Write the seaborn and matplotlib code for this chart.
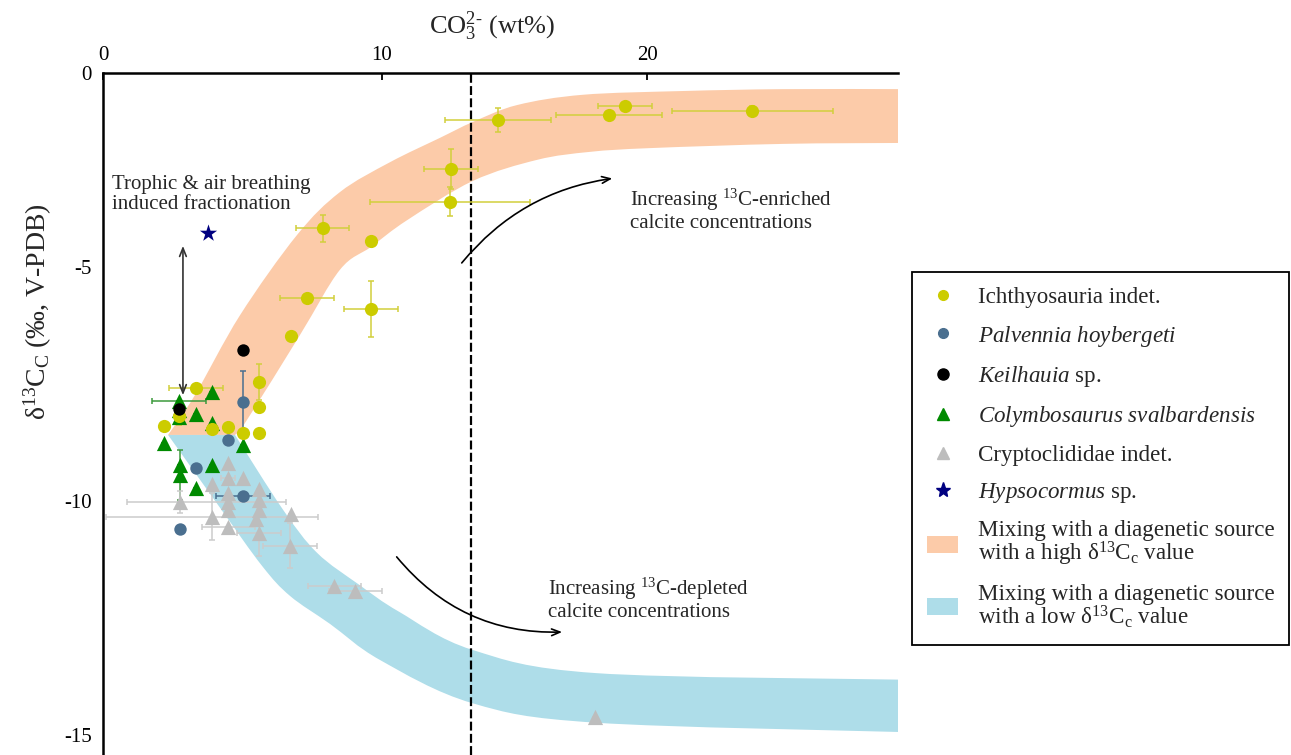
import numpy as np
import pandas as pd
import matplotlib
matplotlib.use("Agg")
import matplotlib.pyplot as plt
from matplotlib.lines import Line2D
from matplotlib.patches import Patch, PathPatch
from matplotlib.path import Path
import seaborn as sns

# Ichthyosauria indet.
ich_x = [23.95, 19.16, 18.56, 14.38, 12.61, 12.58, 7.79, 9.60, 7.19, 9.60,
         6.59, 3.01, 5.38, 5.38, 2.37, 1.81, 3.61, 4.22, 4.78, 5.38]
ich_y = [-1.67, -1.56, -1.75, -1.86, -2.91, -3.61, -4.17, -4.44, -5.66, -5.90,
         -6.47, -7.59, -7.46, -7.99, -8.18, -8.40, -8.46, -8.42, -8.55, -8.55]
ich_xerr = [3.03, 1.0, 2.0, 2.0, 1.0, 3.0, 1.0, 0, 1.0, 1.0,
            0, 1.0, 0, 0, 0, 0, 0, 0, 0, 0]
ich_yerr = [0.1, 0, 0, 0.26, 0.43, 0.31, 0.29, 0, 0, 0.6,
            0, 0, 0.38, 0, 0.2, 0, 0, 0, 0, 0]

# Palvennia hoybergeti
pal_x = [4.78, 4.22, 3.01, 4.78, 2.41]
pal_y = [-7.88, -8.70, -9.29, -9.89, -10.60]
pal_xerr = [0, 0, 0, 1.0, 0]
pal_yerr = [0.66, 0, 0, 0, 0]

# Keilhauia sp.
kei_x = [4.78, 2.37]
kei_y = [-6.77, -8.03]

# Colymbosaurus svalbardensis
col_x = [3.61, 2.37, 2.37, 2.37, 3.01, 3.61, 1.81, 4.78, 2.41, 2.41, 3.61, 3.01]
col_y = [-7.67, -7.86, -8.06, -8.21, -8.14, -8.33, -8.76, -8.80, -9.23, -9.44, -9.23, -9.72]
col_xerr = [0, 1.0, 0, 0, 0, 0, 0, 0, 0, 0, 0, 0]
col_yerr = [0, 0, 0, 0, 0, 0, 0, 0, 0, 0.53, 0, 0]

# Cryptoclididae indet.
cry_x = [4.22, 4.22, 4.78, 3.61, 4.22, 5.38, 2.41, 4.22, 4.22, 5.38,
         5.38, 3.61, 5.27, 6.59, 4.22, 5.38, 6.55, 8.21, 9.00, 18.03]
cry_y = [-9.19, -9.51, -9.51, -9.64, -9.83, -9.74, -10.02, -10.02, -10.19, -9.98,
         -10.19, -10.34, -10.38, -10.28, -10.56, -10.68, -10.96, -11.82, -11.92, -14.62]
cry_xerr_lo = [0, 0.27, 0, 0, 0, 0, 2.0, 0, 0, 0,
               0, 4.0, 0, 0, 1.0, 0.83, 1.0, 1.0, 1.0, 0]
cry_xerr_hi = [0, 0.27, 0, 0, 0, 0, 4.0, 0, 0, 0,
               0, 4.0, 0, 0, 1.0, 0.83, 1.0, 1.0, 1.0, 0]
cry_yerr = [0, 0, 0, 0, 0, 0, 0.23, 0, 0, 0,
            0, 0.5, 0, 0, 0, 0.5, 0.48, 0, 0, 0]

# Hypsocormus sp.
hyp_x = [3.46]
hyp_y = [-4.27]

# mixing envelopes (edges)
high_up_x = [1.96, 2.97, 4.67, 6.81, 8.43, 10.32, 12.2, 13.44, 15.1, 17.58, 21.35, 25.11, 29.6]
high_up_y = [-8.59, -7.74, -6.03, -4.32, -3.40, -2.76, -2.24, -1.90, -1.54, -1.32, -1.24, -1.20, -1.20]
high_lo_x = [4.48, 4.93, 6.93, 8.43, 9.60, 10.96, 13.44, 15.86, 17.85, 20.11, 25.11, 29.6]
high_lo_y = [-8.59, -8.27, -6.45, -5.06, -4.57, -4.00, -3.16, -2.71, -2.54, -2.46, -2.37, -2.35]
low_up_x = [4.48, 6.29, 7.57, 9.15, 10.66, 13.4, 18.07, 29.6]
low_up_y = [-8.59, -10.19, -11.11, -11.79, -12.37, -13.18, -13.68, -13.82]
low_lo_x = [1.96, 3.92, 5.50, 6.55, 8.06, 9.94, 13.40, 18.07, 29.6]
low_lo_y = [-8.59, -10.15, -11.39, -12.03, -12.63, -13.40, -14.32, -14.74, -14.94]

co3_threshold = 13.37

c_ich = "#cccc00"
c_pal = "#4a6f8f"
c_kei = "#000000"
c_col = "#008a00"
c_cry = "#bdbdbd"
c_hyp = "#000080"
c_high = "#fccba9"
c_low = "#aedde9"


def smooth_edge(xs, ys):
    # Catmull-Rom through the traced edge, as cubic bezier pieces
    p = np.column_stack([xs, ys])
    p = np.vstack([p[0], p, p[-1]])
    verts, codes = [tuple(p[1])], [Path.MOVETO]
    for i in range(1, len(p) - 2):
        c1 = p[i] + (p[i + 1] - p[i - 1]) / 6
        c2 = p[i + 1] - (p[i + 2] - p[i]) / 6
        verts += [tuple(c1), tuple(c2), tuple(p[i + 1])]
        codes += [Path.CURVE4] * 3
    return verts, codes


def band_patch(ux, uy, lx, ly, color):
    v1, c1 = smooth_edge(ux, uy)
    v2, c2 = smooth_edge(lx[::-1], ly[::-1])
    c2[0] = Path.LINETO
    verts = v1 + v2 + [v1[0]]
    codes = c1 + c2 + [Path.CLOSEPOLY]
    return PathPatch(Path(verts, codes), facecolor=color, edgecolor="none", zorder=0)


sns.set_theme(style="white")
plt.rcParams["font.family"] = ["Liberation Serif", "DejaVu Serif"]
plt.rcParams["mathtext.fontset"] = "custom"
plt.rcParams["mathtext.rm"] = "Liberation Serif"
plt.rcParams["mathtext.it"] = "Liberation Serif:italic"

fig = plt.figure(figsize=(12.91, 7.55), dpi=100)
ax = fig.add_axes([103 / 1291, 0.0, 795 / 1291, 682 / 755])

# envelopes
ax.add_patch(band_patch(high_up_x, high_up_y, high_lo_x, high_lo_y, c_high))
ax.add_patch(band_patch(low_up_x, low_up_y, low_lo_x, low_lo_y, c_low))

ax.axvline(co3_threshold, color="black", ls=(0, (4, 1.5)), lw=1.6, zorder=1)

# error bars
eb = dict(fmt="none", capsize=2.5, elinewidth=1.1, capthick=1.1, zorder=2)
ax.errorbar(ich_x, ich_y, xerr=ich_xerr, yerr=ich_yerr, ecolor="#d2cf3c", **eb)
ax.errorbar(pal_x, pal_y, xerr=pal_xerr, yerr=pal_yerr, ecolor=c_pal, **eb)
ax.errorbar(col_x, col_y, xerr=col_xerr, yerr=col_yerr, ecolor="#3c9a3c", **eb)
ax.errorbar(cry_x, cry_y, xerr=[cry_xerr_lo, cry_xerr_hi], yerr=cry_yerr,
            ecolor="#cccccc", **eb)

# markers
df = pd.concat([
    pd.DataFrame({"x": cry_x, "y": cry_y, "group": "Cryptoclididae indet."}),
    pd.DataFrame({"x": col_x, "y": col_y, "group": "Colymbosaurus svalbardensis"}),
    pd.DataFrame({"x": ich_x, "y": ich_y, "group": "Ichthyosauria indet."}),
    pd.DataFrame({"x": pal_x, "y": pal_y, "group": "Palvennia hoybergeti"}),
    pd.DataFrame({"x": kei_x, "y": kei_y, "group": "Keilhauia sp."}),
    pd.DataFrame({"x": hyp_x, "y": hyp_y, "group": "Hypsocormus sp."}),
], ignore_index=True)
palette = {"Ichthyosauria indet.": c_ich, "Palvennia hoybergeti": c_pal,
           "Keilhauia sp.": c_kei, "Colymbosaurus svalbardensis": c_col,
           "Cryptoclididae indet.": c_cry, "Hypsocormus sp.": c_hyp}
markers = {"Ichthyosauria indet.": "o", "Palvennia hoybergeti": "o",
           "Keilhauia sp.": "o", "Colymbosaurus svalbardensis": "^",
           "Cryptoclididae indet.": "^", "Hypsocormus sp.": "*"}
sizes = {"Ichthyosauria indet.": 90, "Palvennia hoybergeti": 80,
         "Keilhauia sp.": 80, "Colymbosaurus svalbardensis": 120,
         "Cryptoclididae indet.": 120, "Hypsocormus sp.": 170}
for name, sub in df.groupby("group", sort=False):
    sns.scatterplot(data=sub, x="x", y="y", color=palette[name], marker=markers[name],
                    s=sizes[name], linewidth=0, ax=ax, zorder=3, legend=False)

# axes styling
ax.set_xlim(-0.49, 29.44)
ax.set_ylim(-15.43, -0.855)
ax.xaxis.tick_top()
ax.xaxis.set_label_position("top")
ax.set_xticks([-0.49, 10, 20])
ax.set_xticklabels(["0", "10", "20"])
ax.set_yticks([-0.855, -5, -10, -15])
ax.set_yticklabels(["0", "-5", "-10", "-15"])
ax.tick_params(axis="both", direction="in", length=5, width=1.3, labelsize=15,
               colors="black")
ax.tick_params(axis="x", pad=6)
ax.tick_params(axis="y", pad=8)
for side in ["right", "bottom"]:
    ax.spines[side].set_visible(False)
for side in ["top", "left"]:
    ax.spines[side].set_linewidth(1.8)
    ax.spines[side].set_color("black")

ax.set_xlabel(r"CO$_3^{2\text{-}}$ (wt%)", fontsize=19)
ax.xaxis.set_label_coords(0.49, 1.058)
ax.set_ylabel(r"δ$^{13}$C$_\mathrm{C}$ (‰, V-PDB)", fontsize=20)
ax.yaxis.set_label_coords(-0.062, 0.65)

# annotations
ax.text(-0.15, -3.03, "Trophic & air breathing\ninduced fractionation",
        fontsize=15, va="top", ha="left", linespacing=1.1)
ax.annotate("", xy=(2.52, -7.80), xytext=(2.52, -4.49),
            arrowprops=dict(arrowstyle="<->,head_length=0.5,head_width=0.2",
                            color="#333333", lw=1.2))
ax.annotate("", xy=(18.79, -3.10), xytext=(12.95, -4.96),
            arrowprops=dict(arrowstyle="->,head_length=0.5,head_width=0.2",
                            color="black", lw=1.2, connectionstyle="arc3,rad=-0.2"))
ax.text(19.35, -3.28, "Increasing $^{13}$C-enriched\ncalcite concentrations",
        fontsize=15, va="top", ha="left", linespacing=1.1)
ax.annotate("", xy=(16.9, -12.8), xytext=(10.5, -11.15),
            arrowprops=dict(arrowstyle="->,head_length=0.5,head_width=0.2",
                            color="black", lw=1.2, connectionstyle="arc3,rad=0.25"))
ax.text(16.27, -11.6, "Increasing $^{13}$C-depleted\ncalcite concentrations",
        fontsize=15, va="top", ha="left", linespacing=1.1)

# legend
handles = [
    Line2D([], [], ls="none", marker="o", color=c_ich, markersize=7),
    Line2D([], [], ls="none", marker="o", color=c_pal, markersize=7),
    Line2D([], [], ls="none", marker="o", color=c_kei, markersize=8),
    Line2D([], [], ls="none", marker="^", color=c_col, markersize=9),
    Line2D([], [], ls="none", marker="^", color=c_cry, markersize=9),
    Line2D([], [], ls="none", marker="*", color=c_hyp, markersize=11),
    Patch(facecolor=c_high, edgecolor="none"),
    Patch(facecolor=c_low, edgecolor="none"),
]
labels = [
    "Ichthyosauria indet.",
    r"$\mathit{Palvennia\ hoybergeti}$",
    r"$\mathit{Keilhauia}$ sp.",
    r"$\mathit{Colymbosaurus\ svalbardensis}$",
    "Cryptoclididae indet.",
    r"$\mathit{Hypsocormus}$ sp.",
    "Mixing with a diagenetic source\nwith a high δ$^{13}$C$_\\mathrm{c}$ value",
    "Mixing with a diagenetic source\nwith a low δ$^{13}$C$_\\mathrm{c}$ value",
]
leg = fig.legend(handles, labels, loc="upper left",
                 bbox_to_anchor=(912 / 1291, 1 - 272 / 755),
                 fontsize=16.6, frameon=True, fancybox=False, framealpha=1,
                 edgecolor="black", borderpad=0.65, labelspacing=0.66,
                 handlelength=1.35, handleheight=0.75, handletextpad=0.85,
                 borderaxespad=0)
leg.get_frame().set_linewidth(1.3)
for t in leg.get_texts():
    t.set_linespacing(0.95)

fig.savefig("out.png", dpi=100)
